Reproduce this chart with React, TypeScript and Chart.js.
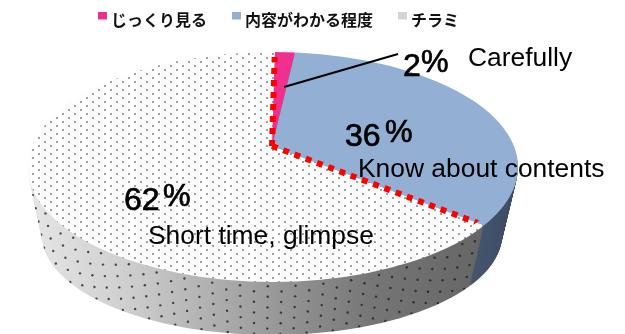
import React, { useEffect, useRef } from "react";
import { Chart, registerables } from "chart.js";

Chart.register(...registerables);

const categories = ["じっくり見る", "内容がわかる程度", "チラミ"];
const shares = [2, 36, 62];
const swatchColors = ["#f0308f", "#93afd4", "#d4d4d4"];
const shareLabels = ["2", "36", "62"];
const englishLabels = ["Carefully", "Know about contents", "Short time, glimpse"];

// Upper rim and lower rim of the tilted disc, in canvas pixels
const rimTop = { cx: 273, cy: 167, rx: 245, ry: 115 };
const rimBottom = { cx: 272, cy: 235, rx: 230, ry: 100 };
const apexLift = 21;
const wallSteps = 68;
const perspective = 0.218;
const pieRotation = 1;

// Where each label sits: number origin, percent-sign origin, caption origin
const numberAt = [[403, 76], [345, 146], [124, 210]];
const percentAt = [[421, 72], [385, 142], [163, 206]];
const captionAt = [[468, 66], [358, 177], [148, 244]];
const leader = [[284, 87], [398, 54]];

const lerp = (a: number, b: number, s: number) => a + (b - a) * s;
const rimAt = (s: number) => ({
  cx: lerp(rimTop.cx, rimBottom.cx, s),
  cy: lerp(rimTop.cy, rimBottom.cy, s),
  rx: lerp(rimTop.rx, rimBottom.rx, s),
  ry: lerp(rimTop.ry, rimBottom.ry, s),
});

// Foreshortening of a clockwise-from-top angle on a disc seen at a tilt
function foreshorten(t: number) {
  const u = Math.sin(t);
  const v = -Math.cos(t);
  const d = 1 - perspective * v;
  const a = Math.atan2((u * Math.sqrt(1 - perspective * perspective)) / d, -(v - perspective) / d);
  return t > Math.PI && a < Math.PI ? a + 2 * Math.PI : a;
}

const toChart = (t: number) => t - Math.PI / 2;
const fromChart = (a: number) => a + Math.PI / 2;

function makeDotTile() {
  const c = document.createElement("canvas");
  c.width = 12;
  c.height = 8;
  const g = c.getContext("2d")!;
  g.fillStyle = "#fdfdfd";
  g.fillRect(0, 0, 12, 8);
  g.fillStyle = "#8c8c8c";
  g.beginPath();
  g.arc(3, 2, 1.1, 0, 7);
  g.arc(9, 6, 1.1, 0, 7);
  g.fill();
  return c;
}

function makeWallTexture(stops: [number, string][], dotted: boolean) {
  const c = document.createElement("canvas");
  c.width = 625;
  c.height = 334;
  const g = c.getContext("2d")!;
  const grad = g.createLinearGradient(rimTop.cx - rimTop.rx, 0, rimTop.cx + rimTop.rx, 0);
  stops.forEach(([p, col]) => grad.addColorStop(p, col));
  g.fillStyle = grad;
  g.fillRect(0, 0, 625, 334);
  if (dotted) {
    // Staggered dots at an even horizontal pitch, following the curve of the rim
    g.fillStyle = "rgba(25,25,25,0.75)";
    let col = 0;
    for (let u = -0.99; u <= 0.99; u += 0.057, col++) {
      for (let s = col % 2 ? 0.08 : 0.18; s < 1.1; s += 0.2) {
        const rim = rimAt(s);
        const x = rim.cx + rim.rx * u;
        const y = rim.cy + rim.ry * Math.sqrt(1 - u * u);
        g.beginPath();
        g.arc(x, y, 1.2, 0, 7);
        g.fill();
      }
    }
  }
  return c;
}

// Legend swatch sitting above the middle of the text line
function makeSwatch(color: string) {
  const c = document.createElement("canvas");
  c.width = 9;
  c.height = 17;
  const g = c.getContext("2d")!;
  g.fillStyle = color;
  g.fillRect(0, 0, 9, 8);
  return c;
}

const tiltedPie = {
  id: "tiltedPie",
  beforeDatasetsDraw(chart: any) {
    const ctx: CanvasRenderingContext2D = chart.ctx;
    const arcs = chart.getDatasetMeta(0).data;
    const dots = ctx.createPattern(makeDotTile(), "repeat")!;
    const grayWall = ctx.createPattern(
      makeWallTexture(
        [[0, "#e6e6e6"], [0.2, "#cfcfcf"], [0.5, "#999999"], [0.7, "#767676"], [0.92, "#666666"], [1, "#5c5c5c"]],
        true,
      ),
      "no-repeat",
    )!;
    const blueWall = ctx.createPattern(
      makeWallTexture([[0, "#4f5f78"], [0.86, "#4a5a74"], [1, "#3c4b62"]], false),
      "no-repeat",
    )!;
    const paint = (arc: any, fill: CanvasPattern | string) => {
      if (typeof fill !== "string") fill.setTransform(ctx.getTransform().inverse());
      const view = Object.create(arc);
      view.startAngle = toChart(foreshorten(fromChart(arc.startAngle)));
      view.endAngle = toChart(foreshorten(fromChart(arc.endAngle)));
      view.circumference = view.endAngle - view.startAngle;
      view.options = Object.assign({}, arc.options, { backgroundColor: fill, borderWidth: 0, borderColor: "transparent" });
      view.draw(ctx);
    };
    // Scales one slice onto a rim ellipse; the ellipse clip trims its oversized radius
    const paintOnRim = (arc: any, rim: ReturnType<typeof rimAt>, fill: CanvasPattern | string) => {
      ctx.save();
      ctx.beginPath();
      ctx.ellipse(rim.cx, rim.cy, rim.rx, rim.ry, 0, 0, 7);
      ctx.clip();
      const k = (2 * rim.rx) / arc.outerRadius;
      ctx.translate(rim.cx - 1, rim.cy - apexLift * (rim.ry / rimTop.ry));
      ctx.scale(k, (k * rim.ry) / rim.rx);
      ctx.translate(-arc.x, -arc.y);
      paint(arc, fill);
      ctx.restore();
    };
    // Side wall: the slices swept downward, deepest first
    for (let d = wallSteps; d > 0; d--) {
      const rim = rimAt(d / wallSteps);
      arcs.forEach((arc: any, i: number) => {
        paintOnRim(arc, rim, i === 2 ? grayWall : i === 1 ? blueWall : "#a02060");
      });
    }
    // Top face
    arcs.forEach((arc: any, i: number) => {
      paintOnRim(arc, rimTop, i === 2 ? dots : arc.options.backgroundColor);
    });
    // Red dotted outline along the two edges of the "glimpse" slice
    const glimpse = arcs[2];
    const apexX = rimTop.cx - 1;
    const apexY = rimTop.cy - apexLift;
    ctx.save();
    ctx.beginPath();
    ctx.ellipse(rimTop.cx, rimTop.cy, rimTop.rx - 9, rimTop.ry - 5, 0, 0, 7);
    ctx.clip();
    ctx.strokeStyle = "#ff0000";
    ctx.lineWidth = 6;
    ctx.setLineDash([6, 6]);
    const ray = (a: number) => {
      const t = foreshorten(fromChart(a));
      return [apexX + Math.sin(t) * rimTop.rx * 2, apexY - Math.cos(t) * rimTop.ry * 2];
    };
    const [ax, ay] = ray(glimpse.startAngle);
    const [bx, by] = ray(glimpse.endAngle);
    ctx.beginPath();
    ctx.moveTo(apexX, apexY);
    ctx.lineTo(ax, ay);
    ctx.moveTo(apexX, apexY);
    ctx.lineTo(bx, by);
    ctx.stroke();
    ctx.restore();
    return false;
  },
  afterDraw(chart: any) {
    const ctx: CanvasRenderingContext2D = chart.ctx;
    ctx.save();
    ctx.strokeStyle = "#000";
    ctx.lineWidth = 2;
    ctx.beginPath();
    ctx.moveTo(leader[0][0], leader[0][1]);
    ctx.lineTo(leader[1][0], leader[1][1]);
    ctx.stroke();
    ctx.fillStyle = "#000";
    ctx.textBaseline = "alphabetic";
    ctx.textAlign = "left";
    ctx.lineWidth = 0.7;
    shareLabels.forEach((s, i) => {
      ctx.font = "32px 'Liberation Sans'";
      ctx.fillText(s, numberAt[i][0], numberAt[i][1]);
      ctx.strokeText(s, numberAt[i][0], numberAt[i][1]);
      ctx.font = "31px 'Liberation Sans'";
      ctx.fillText("%", percentAt[i][0], percentAt[i][1]);
      ctx.strokeText("%", percentAt[i][0], percentAt[i][1]);
    });
    ctx.font = "26.4px 'Liberation Sans'";
    englishLabels.forEach((s, i) => ctx.fillText(s, captionAt[i][0], captionAt[i][1]));
    ctx.restore();
  },
};

export default function App() {
  const ref = useRef<HTMLCanvasElement>(null);
  useEffect(() => {
    const chart = new Chart(ref.current!, {
      type: "pie",
      data: {
        labels: categories,
        datasets: [{ data: shares, backgroundColor: swatchColors, borderWidth: 0 }],
      },
      options: {
        animation: false,
        responsive: false,
        rotation: pieRotation,
        layout: { padding: { left: 73, top: -16 } },
        plugins: {
          tooltip: { enabled: false },
          legend: {
            position: "top",
            align: "start",
            labels: {
              usePointStyle: true,
              pointStyleWidth: 2,
              boxHeight: 9,
              padding: 28,
              color: "#111",
              font: { family: "'Noto Sans CJK JP'", size: 16, weight: "bold" },
              generateLabels: (c: any) =>
                (Chart as any).overrides.pie.plugins.legend.labels
                  .generateLabels(c)
                  .map((item: any, i: number) => ({ ...item, pointStyle: makeSwatch(swatchColors[i]) })),
            },
          },
        },
      },
      plugins: [tiltedPie],
    } as any);
    return () => chart.destroy();
  }, []);
  return (
    <canvas
      ref={ref}
      width={625}
      height={334}
      style={{ position: "fixed", left: 0, top: 0, display: "block", background: "#fff" }}
    />
  );
}
